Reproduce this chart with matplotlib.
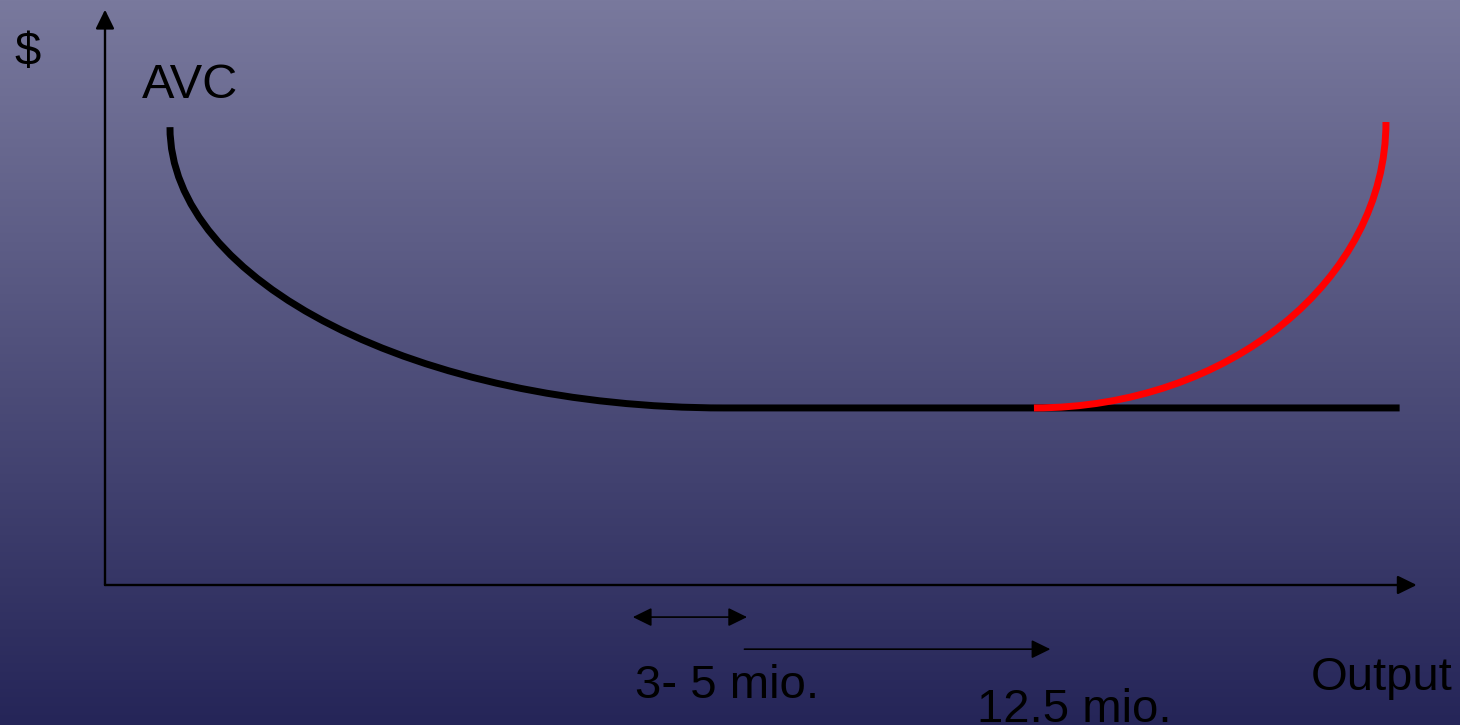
import numpy as np
import matplotlib
matplotlib.use("Agg")
import matplotlib.pyplot as plt
from matplotlib.path import Path
from matplotlib.patches import PathPatch

plt.rcParams['font.family'] = ['Liberation Sans', 'DejaVu Sans']

# AVC curve: start, bottom of the dip, end of the flat part (axis units 0-100)
avc_x = [4.95, 47.2, 98.6]
avc_y = [79.9, 30.9, 30.9]
# rising part (red): start on the flat, top end
rise_x = [70.75, 97.56]
rise_y = [30.9, 80.8]

# output ranges marked below the x axis
range_small = [40.2, 48.9]
range_small_y = -5.6
range_large = [48.7, 72.0]
range_large_y = -11.2

# label -> (x, y, font size)
labels = {
    "$": (-6.9, 90.8, 34),
    "AVC": (2.8, 85.0, 35),
    "3- 5 mio.": (40.4, -19.7, 34),
    "12.5 mio.": (66.4, -23.9, 34),
    "Output": (91.8, -18.3, 34),
}

top_col = np.array([121, 121, 157]) / 255
bot_col = np.array([37, 37, 88]) / 255

fig = plt.figure(figsize=(14.6, 7.25), dpi=100)

# gradient background
bg = fig.add_axes([0, 0, 1, 1])
t = np.linspace(0, 1, 256)[:, None]
grad = top_col[None, :] * (1 - t) + bot_col[None, :] * t
bg.imshow(grad[:, None, :], aspect='auto', extent=[0, 1, 0, 1])
bg.set_axis_off()

ax = fig.add_axes([105 / 1460, 140 / 725, 1313 / 1460, 573 / 725])
ax.set_xlim(0, 100)
ax.set_ylim(0, 100)
ax.set_axis_off()
ax.patch.set_alpha(0)

head = '-|>,head_length=0.55,head_width=0.27'
both = '<|-|>,head_length=0.55,head_width=0.27'

# axes with arrows
ax.annotate('', xy=(0, 100.4), xytext=(0, 0),
            arrowprops=dict(arrowstyle=head, color='black', lw=1.7,
                            mutation_scale=21, shrinkA=0, shrinkB=0),
            annotation_clip=False)
ax.annotate('', xy=(99.9, 0), xytext=(0, 0),
            arrowprops=dict(arrowstyle=head, color='black', lw=1.7,
                            mutation_scale=21, shrinkA=0, shrinkB=0),
            annotation_clip=False)

k = 0.5523
# black AVC curve: quarter ellipse down to the minimum, then flat
verts = [(avc_x[0], avc_y[0]),
         (avc_x[0], avc_y[0] - k * (avc_y[0] - avc_y[1])),
         (avc_x[1] - k * (avc_x[1] - avc_x[0]), avc_y[1]),
         (avc_x[1], avc_y[1]),
         (avc_x[2], avc_y[2])]
codes = [Path.MOVETO, Path.CURVE4, Path.CURVE4, Path.CURVE4, Path.LINETO]
ax.add_patch(PathPatch(Path(verts, codes), fill=False, edgecolor='black',
                       lw=5, capstyle='butt', clip_on=False, zorder=3))

# red rising part
verts = [(rise_x[0], rise_y[0]),
         (rise_x[0] + k * (rise_x[1] - rise_x[0]), rise_y[0]),
         (rise_x[1], rise_y[1] - k * (rise_y[1] - rise_y[0])),
         (rise_x[1], rise_y[1])]
codes = [Path.MOVETO, Path.CURVE4, Path.CURVE4, Path.CURVE4]
ax.add_patch(PathPatch(Path(verts, codes), fill=False, edgecolor='#ff0000',
                       lw=5, capstyle='butt', clip_on=False, zorder=4))

# range arrows
ax.annotate('', xy=(range_small[1], range_small_y), xytext=(range_small[0], range_small_y),
            arrowprops=dict(arrowstyle=both, color='black', lw=1.2,
                            mutation_scale=21, shrinkA=0, shrinkB=0),
            annotation_clip=False)
ax.annotate('', xy=(range_large[1], range_large_y), xytext=(range_large[0], range_large_y),
            arrowprops=dict(arrowstyle=head, color='black', lw=1.2,
                            mutation_scale=21, shrinkA=0, shrinkB=0),
            annotation_clip=False)

for txt, (x, y, fs) in labels.items():
    ax.text(x, y, txt, fontsize=fs, color='black', ha='left', va='baseline',
            clip_on=False)

fig.savefig('out.png', dpi=100)
